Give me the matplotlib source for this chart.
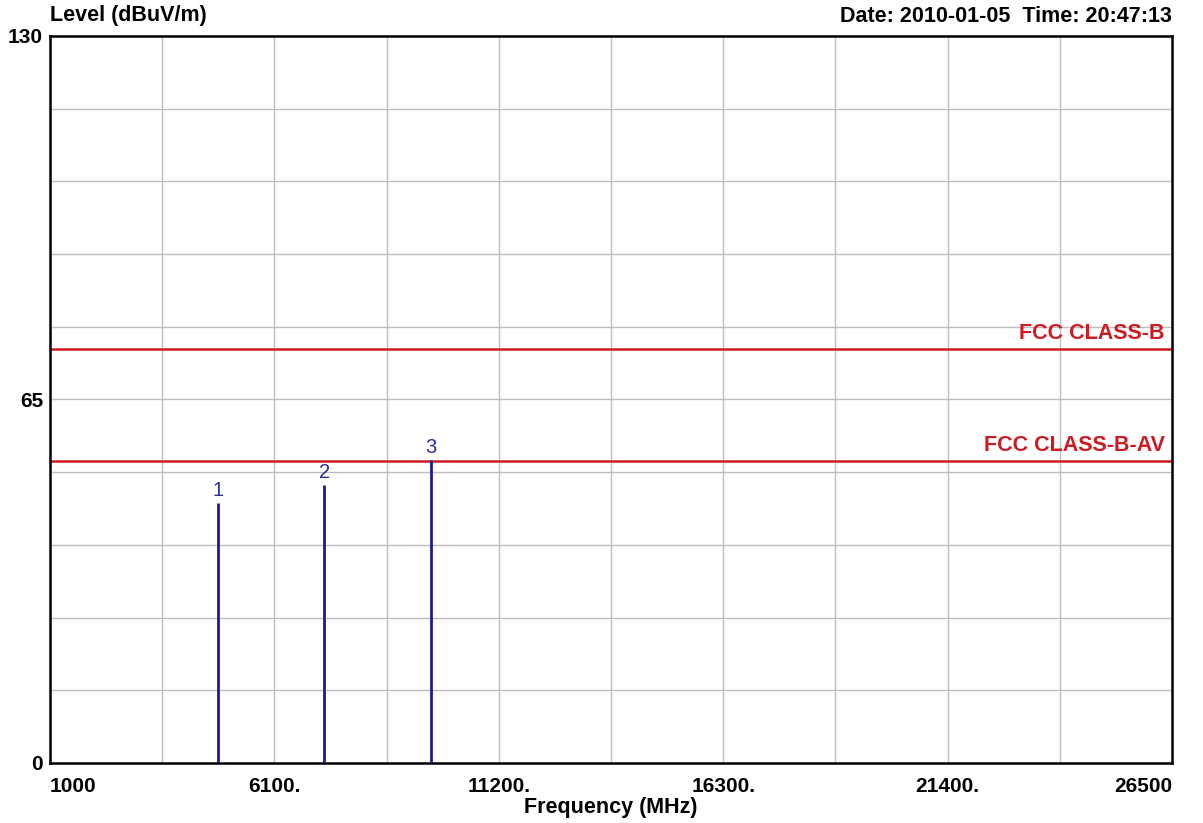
import matplotlib
matplotlib.use("Agg")
import matplotlib.pyplot as plt

# limit lines (dBuV/m)
limit_names = ["FCC CLASS-B", "FCC CLASS-B-AV"]
limit_levels = [74, 54]

# measured peaks
peak_ids = ["1", "2", "3"]
peak_freqs = [4824, 7236, 9648]
peak_levels = [46.5, 49.7, 54.2]

xticks = [1000, 6100, 11200, 16300, 21400, 26500]
xtick_labels = ["1000", "6100.", "11200.", "16300.", "21400.", "26500"]
yticks = [0, 65, 130]

plt.rcParams['font.family'] = ['Liberation Sans', 'DejaVu Sans']

fig = plt.figure(figsize=(12.03, 8.23), dpi=100)
ax = fig.add_axes([50/1203, 60/823, 1122/1203, 727/823])

ax.set_xlim(1000, 26500)
ax.set_ylim(0, 130)

# grid: 10 x 10 divisions
for i in range(1, 10):
    ax.axvline(1000 + i*2550, color='#bdbdbd', lw=1, zorder=1)
    ax.axhline(i*13, color='#bdbdbd', lw=1, zorder=1)

for name, lvl in zip(limit_names, limit_levels):
    ax.axhline(lvl, color='#d01a22', lw=1.8, zorder=2)
    ax.text(26340, lvl + 0.9, name, color='#d01a22', fontsize=15.5,
            fontweight='bold', ha='right', va='bottom')

for pid, f, lv in zip(peak_ids, peak_freqs, peak_levels):
    ax.vlines(f, 0, lv, color='#1c1c90', lw=2, zorder=3)
    ax.text(f, lv + 0.6, pid, color='#2a2aa0', fontsize=14.5, ha='center', va='bottom')

ax.set_xticks(xticks)
ax.set_xticklabels(xtick_labels, fontsize=15, fontweight='bold')
labs = ax.get_xticklabels()
labs[0].set_ha('left')
labs[-1].set_ha('right')
ax.set_yticks(yticks)
ax.set_yticklabels([str(v) for v in yticks], fontsize=15, fontweight='bold')
ax.tick_params(axis='x', length=0, pad=10)
ax.tick_params(axis='y', length=0, pad=5)

for s in ax.spines.values():
    s.set_linewidth(1.8)
    s.set_color('black')

ax.set_xlabel("Frequency (MHz)", fontsize=15.5, fontweight='bold', labelpad=1)
fig.text(50/1203, 1 - 16/823, "Level (dBuV/m)", fontsize=15.5, fontweight='bold',
         ha='left', va='center')
fig.text(1172/1203, 1 - 16/823, "Date: 2010-01-05  Time: 20:47:13", fontsize=15.5,
         fontweight='bold', ha='right', va='center')

fig.savefig("out.png", dpi=100)
